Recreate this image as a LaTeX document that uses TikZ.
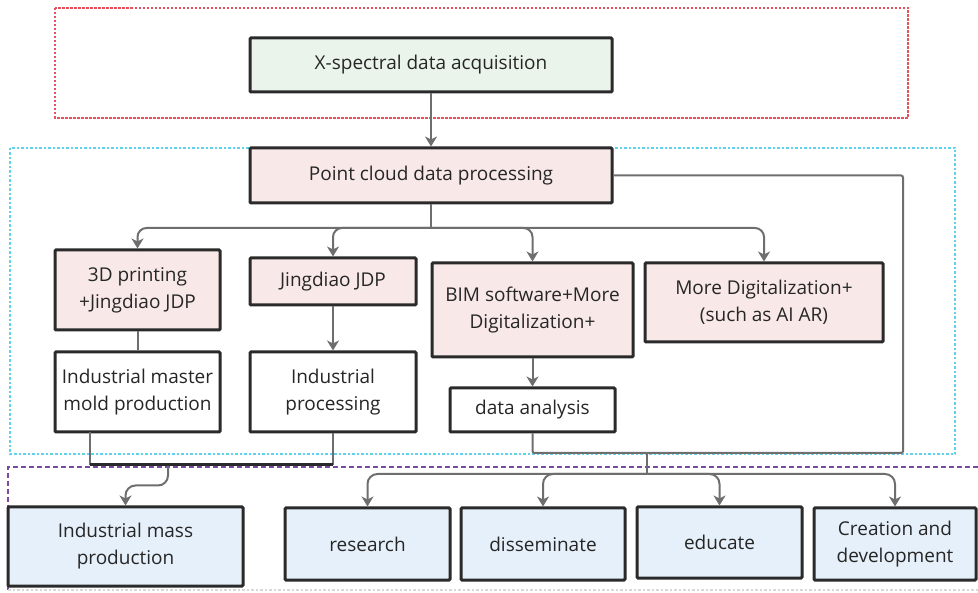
\documentclass[tikz,border=0pt]{standalone}
\usepackage{fontspec}
\setmainfont{Open Sans}
\usetikzlibrary{arrows.meta,calc}
\definecolor{boxline}{HTML}{2A2A2A}
\definecolor{connline}{HTML}{6E6E6E}
\definecolor{greenfill}{HTML}{EBF4EA}
\definecolor{pinkfill}{HTML}{F8E8E8}
\definecolor{bluefill}{HTML}{E6F0FA}
\definecolor{redframe}{HTML}{E8505B}
\definecolor{cyanframe}{HTML}{5FD3EC}
\definecolor{purpleframe}{HTML}{7B4A9E}
\definecolor{greyframe}{HTML}{D8D8D8}
\tikzset{
  box/.style={draw=boxline, line width=3pt, rounded corners=1pt, align=center,
    font=\fontsize{19}{27}\selectfont, text=black!85, inner sep=2pt},
  greenbox/.style={box, fill=greenfill},
  pinkbox/.style={box, fill=pinkfill},
  whitebox/.style={box, fill=white},
  bluebox/.style={box, fill=bluefill},
  conn/.style={draw=connline, line width=2pt},
  arr/.style={conn, -{Stealth[length=10pt,width=12pt,inset=3pt]}},
  frame/.style={line width=1.3pt}
}
\begin{document}
\begin{tikzpicture}[x=1pt,y=-1pt]
\useasboundingbox (0,0) rectangle (978,593);

% dashed group frames
\draw[frame, draw=redframe, dash pattern=on 2.5pt off 1.5pt] (55,8) rectangle (908,118);
\draw[frame, draw=cyanframe, dash pattern=on 2.5pt off 2pt] (10,148) rectangle (955,454);
\draw[frame, draw=purpleframe, dash pattern=on 5pt off 3pt] (978,467) -- (8,467) -- (8,590);
\draw[frame, draw=greyframe, dash pattern=on 2.5pt off 2pt] (8,590) -- (978,590);

% boxes
\node[greenbox, minimum width=362pt, minimum height=54pt] (acq) at (431,65) {X-spectral data acquisition};
\node[pinkbox, minimum width=362pt, minimum height=55pt] (pcd) at (431,175.5) {Point cloud data processing};

\node[pinkbox, minimum width=165pt, minimum height=80pt] (p3d) at (137.5,290) {3D printing\\+Jingdiao JDP};
\node[pinkbox, minimum width=166pt, minimum height=47pt] (jdp) at (333,281.5) {Jingdiao JDP};
\node[pinkbox, minimum width=201pt, minimum height=94pt] (bim) at (532.5,310) {BIM software+More\\Digitalization+};
\node[pinkbox, minimum width=238pt, minimum height=79pt] (more) at (764,302.5) {More Digitalization+\\(such as AI AR)};

\node[whitebox, minimum width=165pt, minimum height=80pt] (mold) at (137.5,392) {Industrial master\\mold production};
\node[whitebox, minimum width=166pt, minimum height=80pt] (proc) at (333,392) {Industrial\\processing};
\node[whitebox, minimum width=165pt, minimum height=44pt] (ana) at (532.5,410) {data analysis};

\node[bluebox, minimum width=235pt, minimum height=79pt] (mass) at (125.5,546.5) {Industrial mass\\production};
\node[bluebox, minimum width=165pt, minimum height=72pt] (res) at (367.5,544) {research};
\node[bluebox, minimum width=164pt, minimum height=72pt] (dis) at (543,544) {disseminate};
\node[bluebox, minimum width=165pt, minimum height=71pt] (edu) at (719.5,542.5) {educate};
\node[bluebox, minimum width=162pt, minimum height=72pt] (cre) at (895,544) {Creation and\\development};

% junction points
\coordinate (hub) at (431,228);
\coordinate (rloop) at (903,453);
\coordinate (low) at (647,453);
\coordinate (lowhub) at (647,474);
\coordinate (m1) at (90,432);
\coordinate (m2) at (90,465);
\coordinate (p2) at (333,465);
\coordinate (mj) at (168,466);

% top flow
\draw[arr] (acq.south) -- (pcd.north);
\draw[conn] (pcd.south) -- (hub);
\draw[arr, rounded corners=9pt] (hub) -| (p3d.north);
\draw[arr, rounded corners=9pt] (hub) -| (jdp.north);
\draw[arr, rounded corners=9pt] (hub) -| (bim.north);
\draw[arr, rounded corners=9pt] (hub) -| (more.north);

% second row links
\draw[conn] (p3d.south) -- (mold.north);
\draw[arr] (jdp.south) -- (proc.north);
\draw[arr] (bim.south) -- (ana.north);

% loop from point cloud processing around to data analysis
\draw[conn, rounded corners=2pt] (pcd.east) -| (rloop) -| (ana.south);
\draw[conn] (low) -- (lowhub);
\draw[arr, rounded corners=10pt] (lowhub) -| (res.north);
\draw[arr, rounded corners=10pt] (lowhub) -| (dis.north);
\draw[arr, rounded corners=10pt] (lowhub) -| (edu.north);
\draw[arr, rounded corners=10pt] (lowhub) -| (cre.north);

% industrial production merge
\draw[conn] (m1) -- (m2);
\draw[conn] (proc.south) -- (p2);
\draw[draw=boxline, line width=3pt] (m2) -- (p2);
\draw[arr, rounded corners=10pt] (mj) |- ($(mass.north)+(0,-20)$) -- (mass.north);
\end{tikzpicture}
\end{document}
